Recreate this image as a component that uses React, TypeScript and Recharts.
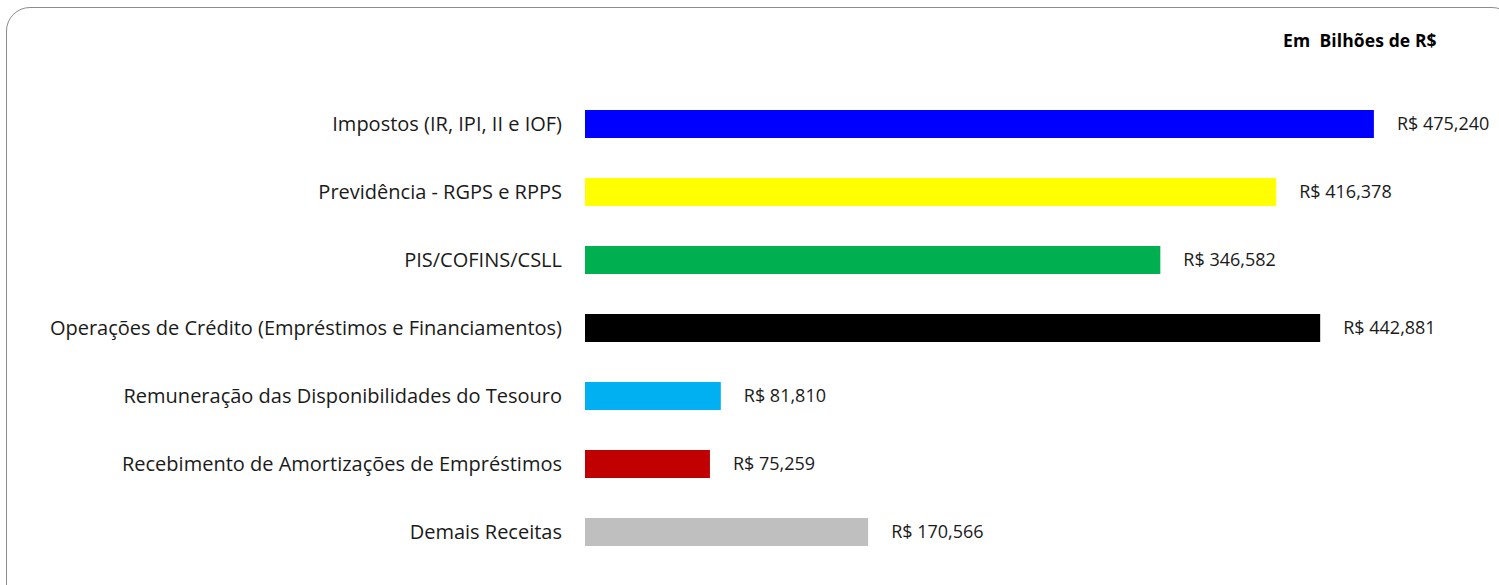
import React from "react";
import { BarChart, Bar, XAxis, YAxis, Cell, LabelList } from "recharts";

const categories = [
  "Impostos (IR, IPI, II e IOF)",
  "Previdência - RGPS e RPPS",
  "PIS/COFINS/CSLL",
  "Operações de Crédito (Empréstimos e Financiamentos)",
  "Remuneração das Disponibilidades do Tesouro",
  "Recebimento de Amortizações de Empréstimos",
  "Demais Receitas",
];
const values = [475.24, 416.378, 346.582, 442.881, 81.81, 75.259, 170.566];
const colors = ["#0000FF", "#FFFF00", "#00B050", "#000000", "#00B0F0", "#C00000", "#BFBFBF"];
const title = "Em  Bilhões de R$";

const data = categories.map((name, i) => ({ name, value: values[i] }));

const fmt = (v: number) => "R$ " + v.toFixed(3).replace(".", ",");

const FONT = "'Open Sans', sans-serif";

export default function App() {
  return (
    <div style={{ position: "absolute", left: 0, top: 0, width: 1499, height: 585, overflow: "hidden", background: "#fff" }}>
      <div
        style={{
          position: "absolute",
          left: 6,
          top: 7,
          width: 1510,
          height: 610,
          border: "1.5px solid #8c8c8c",
          borderRadius: 24,
          boxSizing: "border-box",
        }}
      />
      <div
        style={{
          position: "absolute",
          left: 1283,
          top: 28,
          fontFamily: FONT,
          fontWeight: 700,
          fontSize: 17.5,
          lineHeight: "24px",
          color: "#000",
          whiteSpace: "pre",
          letterSpacing: 0.1,
        }}
      >
        {title}
      </div>
      <div style={{ position: "absolute", left: 0, top: 0 }}>
        <BarChart
          width={1499}
          height={585}
          layout="vertical"
          data={data}
          margin={{ top: 90, bottom: 19, left: 0, right: 84 }}
        >
          <XAxis type="number" domain={[0, 500]} hide />
          <YAxis
            type="category"
            dataKey="name"
            width={585}
            axisLine={false}
            tickLine={false}
            tickSize={0}
            tickMargin={23}
            interval={0}
            tick={{ fontFamily: FONT, fontSize: 20, fill: "#1a1a1a" }}
          />
          <Bar dataKey="value" barSize={28} isAnimationActive={false}>
            {data.map((d, i) => (
              <Cell key={d.name} fill={colors[i]} />
            ))}
            <LabelList
              dataKey="value"
              position="right"
              offset={23}
              formatter={(v: any) => fmt(Number(v))}
              style={{ fontFamily: FONT, fontSize: 18, fill: "#1a1a1a" }}
            />
          </Bar>
        </BarChart>
      </div>
    </div>
  );
}
